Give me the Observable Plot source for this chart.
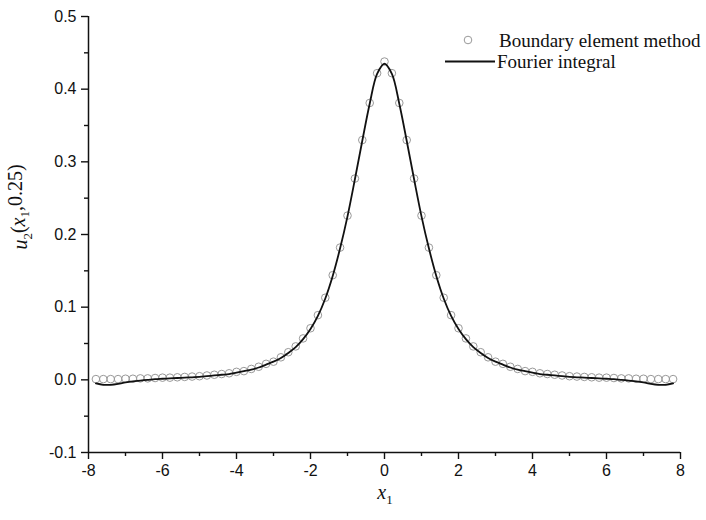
<!DOCTYPE html>
<html><head><meta charset="utf-8">
<script src="https://cdn.jsdelivr.net/npm/d3@7"></script>
<script src="https://cdn.jsdelivr.net/npm/@observablehq/plot@0.6"></script>
<style>body{margin:0;background:#fff;} svg{display:block;}</style>
</head><body>
<div id="chart"></div>
<script>
// x1 positions of the sample points
const x1 = [-7.8,-7.6,-7.4,-7.2,-7.0,-6.8,-6.6,-6.4,-6.2,-6.0,-5.8,-5.6,-5.4,-5.2,-5.0,-4.8,-4.6,-4.4,-4.2,-4.0,-3.8,-3.6,-3.4,-3.2,-3.0,-2.8,-2.6,-2.4,-2.2,-2.0,-1.8,-1.6,-1.4,-1.2,-1.0,-0.8,-0.6,-0.4,-0.2,0,
  0.2,0.4,0.6,0.8,1.0,1.2,1.4,1.6,1.8,2.0,2.2,2.4,2.6,2.8,3.0,3.2,3.4,3.6,3.8,4.0,4.2,4.4,4.6,4.8,5.0,5.2,5.4,5.6,5.8,6.0,6.2,6.4,6.6,6.8,7.0,7.2,7.4,7.6,7.8];
// Boundary element method values
const bem = [0.001,0.001,0.001,0.001,0.0015,0.0015,0.002,0.002,0.0025,0.003,0.003,0.0035,0.004,0.0045,0.005,0.006,0.007,0.008,0.009,0.011,0.012,0.015,0.018,0.022,0.025,0.031,0.038,0.046,0.057,0.071,0.089,0.113,0.144,0.182,0.226,0.277,0.330,0.381,0.422,0.438,
  0.422,0.381,0.330,0.277,0.226,0.182,0.144,0.113,0.089,0.071,0.057,0.046,0.038,0.031,0.025,0.022,0.018,0.015,0.012,0.011,0.009,0.008,0.007,0.006,0.005,0.0045,0.004,0.0035,0.003,0.003,0.0025,0.002,0.002,0.0015,0.0015,0.001,0.001,0.001,0.001];
// Fourier integral values
const fourier = [-0.005,-0.0068,-0.0068,-0.0055,-0.0035,-0.002,-0.001,0.0,0.001,0.0015,0.002,0.0025,0.003,0.0035,0.004,0.005,0.006,0.007,0.008,0.010,0.012,0.014,0.017,0.021,0.025,0.030,0.037,0.045,0.056,0.070,0.088,0.112,0.143,0.181,0.225,0.276,0.329,0.380,0.421,0.435,
  0.421,0.380,0.329,0.276,0.225,0.181,0.143,0.112,0.088,0.070,0.056,0.045,0.037,0.030,0.025,0.021,0.017,0.014,0.012,0.010,0.008,0.007,0.006,0.005,0.004,0.0035,0.003,0.0025,0.002,0.0015,0.001,0.0,-0.001,-0.002,-0.0035,-0.0055,-0.0068,-0.0068,-0.005];

const xTicks = [-8,-6,-4,-2,0,2,4,6,8];
const xMinor = [-7,-5,-3,-1,1,3,5,7];
const yTicks = [-0.1,0,0.1,0.2,0.3,0.4,0.5];
const yMinor = [-0.05,0.05,0.15,0.25,0.35,0.45];

const bemData = x1.map((x,i)=>({x, y: bem[i]}));
const fouData = x1.map((x,i)=>({x, y: fourier[i]}));

const W = 706, H = 520;
const svg = Plot.plot({
  width: W, height: H,
  marginLeft: 88, marginRight: 26, marginTop: 16, marginBottom: 68,
  style: {fontFamily: "'Liberation Sans', Arial, sans-serif", fontSize: "16px", color: "#111", background: "#fff", overflow: "visible"},
  x: {domain: [-8, 8]},
  y: {domain: [-0.1, 0.5]},
  marks: [
    Plot.axisX(xTicks, {tickSize: 7, tickPadding: 5, strokeWidth: 1.4, tickFormat: d => String(d), label: null, fontSize: 16}),
    Plot.axisX(xMinor, {tickSize: 4, strokeWidth: 1.4, tickFormat: () => "", label: null}),
    Plot.axisY(yTicks, {tickSize: 7, tickPadding: 5, strokeWidth: 1.4, tickFormat: d => d.toFixed(1), label: null, fontSize: 16}),
    Plot.axisY(yMinor, {tickSize: 4, strokeWidth: 1.4, tickFormat: () => "", label: null}),
    Plot.ruleX([-8], {stroke: "#111", strokeWidth: 1.5}),
    Plot.ruleY([-0.1], {stroke: "#111", strokeWidth: 1.5}),
    Plot.dot(bemData, {x: "x", y: "y", r: 3.8, stroke: "#999", strokeWidth: 1, fill: "none"}),
    Plot.line(fouData, {x: "x", y: "y", stroke: "#111", strokeWidth: 1.8, curve: "catmull-rom"})
  ]
});
document.getElementById("chart").appendChild(svg);

const s = d3.select(svg);
const serif = "'Liberation Serif', 'Times New Roman', serif";

// y axis title u2(x1,0.25)
const yt = s.append("text")
  .attr("transform", "translate(27,207) rotate(-90)")
  .attr("text-anchor", "middle")
  .attr("font-family", serif).attr("font-size", 20).attr("fill", "#111");
yt.append("tspan").attr("font-style", "italic").text("u");
yt.append("tspan").attr("font-size", 13).attr("dy", "0.35em").text("2");
yt.append("tspan").attr("dy", "-0.35em").text("(");
yt.append("tspan").attr("font-style", "italic").text("x");
yt.append("tspan").attr("font-size", 13).attr("dy", "0.35em").text("1");
yt.append("tspan").attr("dy", "-0.35em").text(",0.25)");

// x axis title x1
const xt = s.append("text")
  .attr("x", 385).attr("y", 499)
  .attr("text-anchor", "middle")
  .attr("font-family", serif).attr("font-size", 20).attr("fill", "#111");
xt.append("tspan").attr("font-style", "italic").text("x");
xt.append("tspan").attr("font-size", 13).attr("dy", "0.35em").text("1");

// legend
const lg = s.append("g").attr("font-family", serif).attr("font-size", 19).attr("fill", "#111").attr("text-anchor", "start");
lg.append("circle").attr("cx", 468).attr("cy", 40).attr("r", 3.8).attr("fill", "none").attr("stroke", "#999").attr("stroke-width", 1);
lg.append("text").attr("x", 499).attr("y", 47).text("Boundary element method");
lg.append("line").attr("x1", 445).attr("x2", 495).attr("y1", 61.5).attr("y2", 61.5).attr("stroke", "#111").attr("stroke-width", 1.8);
lg.append("text").attr("x", 497).attr("y", 68).text("Fourier integral");
</script>
</body></html>
